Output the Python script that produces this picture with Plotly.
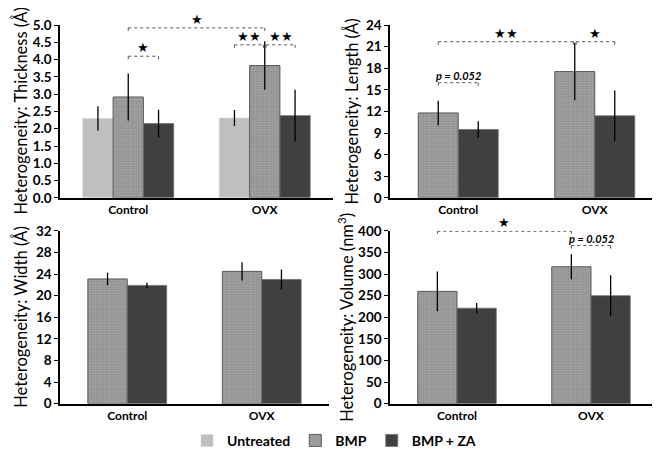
import plotly.graph_objects as go

categories = ["Control", "OVX"]
series = ["Untreated", "BMP", "BMP + ZA"]

thick_untreated = [2.30, 2.31]
thick_untreated_err = [0.35, 0.23]
thick_bmp = [2.92, 3.83]
thick_bmp_err = [0.68, 0.70]
thick_za = [2.15, 2.38]
thick_za_err = [0.40, 0.75]

length_bmp = [11.8, 17.55]
length_bmp_err = [1.7, 4.0]
length_za = [9.5, 11.4]
length_za_err = [1.15, 3.5]

width_bmp = [23.1, 24.5]
width_bmp_err = [1.15, 1.7]
width_za = [21.9, 23.0]
width_za_err = [0.5, 1.85]

volume_bmp = [260, 317]
volume_bmp_err = [46, 29]
volume_za = [221, 250]
volume_za_err = [12, 47]

FONT = "Lato"
C_UNT = "#BFBFBF"
C_ZA = "#404040"

fig = go.Figure()

W3 = 0.222
W2 = 0.293
OFF3 = [-1.5 * W3, -0.5 * W3, 0.5 * W3]
OFF2 = [-W2, 0.0]


def add_bar(name, y, err, xa, ya, width, offset, showlegend):
    kw = dict(name=name, x=categories, y=y, xaxis=xa, yaxis=ya, width=width,
              offset=offset, showlegend=showlegend, legendgroup=name,
              error_y=dict(type="data", array=err, color="#000000",
                           thickness=1.3, width=0))
    if name == "Untreated":
        kw["marker"] = dict(color=C_UNT, line=dict(color="#d0d0d0", width=0.5))
    elif name == "BMP":
        kw["marker"] = dict(color="#a0a0a0",
                            line=dict(color="#5a5a5a", width=1),
                            pattern=dict(shape=".", fgcolor="#707070",
                                         bgcolor="#a8a8a8", size=2.5,
                                         solidity=0.5, fillmode="overlay"))
    else:
        kw["marker"] = dict(color=C_ZA, line=dict(color="#707070", width=0.8))
    fig.add_trace(go.Bar(**kw))


# Panel 1: thickness (3 series)
add_bar("Untreated", thick_untreated, thick_untreated_err, "x", "y", W3, OFF3[0], True)
add_bar("BMP", thick_bmp, thick_bmp_err, "x", "y", W3, OFF3[1], True)
add_bar("BMP + ZA", thick_za, thick_za_err, "x", "y", W3, OFF3[2], True)
# Panel 2: length
add_bar("BMP", length_bmp, length_bmp_err, "x2", "y2", W2, OFF2[0], False)
add_bar("BMP + ZA", length_za, length_za_err, "x2", "y2", W2, OFF2[1], False)
# Panel 3: width
add_bar("BMP", width_bmp, width_bmp_err, "x3", "y3", W2, OFF2[0], False)
add_bar("BMP + ZA", width_za, width_za_err, "x3", "y3", W2, OFF2[1], False)
# Panel 4: volume
add_bar("BMP", volume_bmp, volume_bmp_err, "x4", "y4", W2, OFF2[0], False)
add_bar("BMP + ZA", volume_za, volume_za_err, "x4", "y4", W2, OFF2[1], False)


def center3(cat, s):
    return cat + OFF3[s] + W3 / 2


def center2(cat, s):
    return cat + OFF2[s] + W2 / 2


def bracket(xa, ya, x0, x1, y, drop, label, italic=False, lsize=13):
    line = dict(color="#555555", width=1, dash="dot")
    fig.add_shape(type="line", xref=xa, yref=ya, x0=x0, x1=x1, y0=y, y1=y, line=line)
    fig.add_shape(type="line", xref=xa, yref=ya, x0=x0, x1=x0, y0=y, y1=y - drop, line=line)
    fig.add_shape(type="line", xref=xa, yref=ya, x0=x1, x1=x1, y0=y, y1=y - drop, line=line)
    txt = "<i>%s</i>" % label if italic else label
    fig.add_annotation(xref=xa, yref=ya, x=(x0 + x1) / 2, y=y, text=txt,
                       showarrow=False, yanchor="bottom", yshift=-1,
                       font=dict(family=FONT, size=lsize, color="#000000"))


# significance brackets
bracket("x", "y", center3(0, 1), center3(1, 1), 4.92, 0.09, "★")
bracket("x", "y", center3(0, 1), center3(0, 2), 4.10, 0.09, "★")
bracket("x", "y", center3(1, 0), center3(1, 1) - 0.01, 4.43, 0.09, "★★")
bracket("x", "y", center3(1, 1) + 0.01, center3(1, 2), 4.43, 0.09, "★★")

bracket("x2", "y2", center2(0, 0), center2(1, 0) - 0.01, 21.7, 0.45, "★★")
bracket("x2", "y2", center2(1, 0) + 0.01, center2(1, 1), 21.7, 0.45, "★")
bracket("x2", "y2", center2(0, 0), center2(0, 1), 16.0, 0.5, "<b>p = 0.052</b>", italic=True, lsize=11)

bracket("x4", "y4", center2(0, 0), center2(1, 0), 399, 6, "★")
bracket("x4", "y4", center2(1, 0), center2(1, 1), 366, 9, "<b>p = 0.052</b>", italic=True, lsize=11)

W, H = 660, 449


def px_x(p):
    return p / W


def px_y(p):
    return 1 - p / H


xdoms = [(52, 325), (382, 655), (52, 321), (382, 650)]
ydoms = [(9.5, 189), (9.5, 189), (223.3, 403), (223.3, 403)]
ranges = [(0, 5), (0, 24), (0, 32), (0, 400)]
dticks = [0.5, 3, 4, 50]
fmts = [".1f", "d", "d", "d"]

layout = {}
for i in range(4):
    sx = "" if i == 0 else str(i + 1)
    layout["xaxis" + sx] = dict(
        domain=[px_x(xdoms[i][0]), px_x(xdoms[i][1])], anchor="y" + sx,
        type="category", range=[-0.5, 1.5], showline=True, linecolor="#000000",
        linewidth=1.5, ticks="", showgrid=False, zeroline=False,
        tickfont=dict(family=FONT, size=12, color="#000000", weight="bold"),
        ticklabelstandoff=0)
    layout["yaxis" + sx] = dict(
        domain=[px_y(ydoms[i][1]), px_y(ydoms[i][0])], anchor="x" + sx,
        range=list(ranges[i]), dtick=dticks[i], tickformat=fmts[i],
        showline=True, linecolor="#000000", linewidth=1.5, ticks="outside",
        ticklen=4, tickcolor="#000000", showgrid=False, zeroline=False,
        tickfont=dict(family=FONT, size=13.5, color="#000000", weight="bold"))

fig.update_layout(**layout)

titles = ["Heterogeneity: Thickness (Å)", "Heterogeneity: Length (Å)",
          "Heterogeneity: Width (Å)", "Heterogeneity: Volume (nm<sup>3</sup>)"]
title_x = [12, 343, 12.5, 338.5]
for i in range(4):
    yc = (ydoms[i][0] + ydoms[i][1]) / 2
    fig.add_annotation(xref="paper", yref="paper", x=px_x(title_x[i]), y=px_y(yc),
                       text=titles[i], textangle=-90, showarrow=False,
                       xanchor="center", yanchor="middle",
                       font=dict(family=FONT, size=16.5, color="#000000"))

fig.update_layout(
    width=W, height=H, margin=dict(l=0, r=0, t=0, b=0),
    paper_bgcolor="#ffffff", plot_bgcolor="#ffffff",
    barmode="group",
    showlegend=True,
    legend=dict(orientation="h", x=px_x(326), xanchor="center", y=px_y(441.5),
                yanchor="middle", font=dict(family=FONT, size=14, color="#000000", weight="bold"),
                itemwidth=30, tracegroupgap=0, itemclick=False),
)

fig.write_html("out.html")
